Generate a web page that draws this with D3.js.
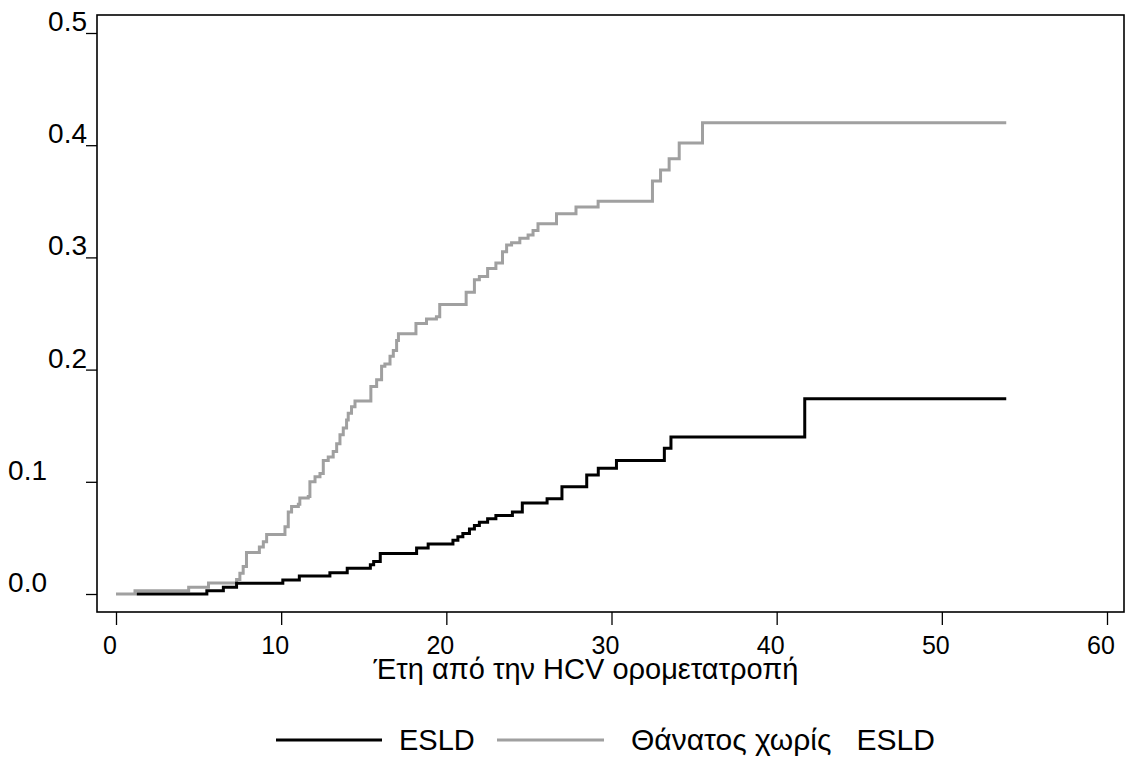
<!DOCTYPE html>
<html>
<head>
<meta charset="utf-8">
<script src="https://cdn.jsdelivr.net/npm/d3@7"></script>
<style>
  html, body { margin: 0; padding: 0; background: #fff; }
  svg { display: block; }
  text { font-family: "Liberation Sans", Arial, sans-serif; fill: #000; }
</style>
</head>
<body>
<svg id="chart" width="1125" height="760"></svg>
<script>
// ---- data ----
const esldTimes  = [1.25, 5.5, 6.5, 7.3, 10.1, 11.1, 12.95, 14.0, 15.4, 15.6, 16.0, 18.2, 18.9, 20.4, 20.7, 21.0, 21.4, 21.7, 22.0, 22.5, 23.0, 24.0, 24.6, 26.1, 27.0, 28.5, 29.2, 30.3, 33.2, 33.6, 41.7, 53.9];
const esldValues = [0, 0.003, 0.006, 0.0095, 0.0125, 0.016, 0.019, 0.023, 0.026, 0.029, 0.036, 0.041, 0.0446, 0.048, 0.051, 0.054, 0.058, 0.061, 0.064, 0.067, 0.070, 0.073, 0.081, 0.085, 0.0956, 0.106, 0.112, 0.119, 0.130, 0.140, 0.174, 0.174];

const deathTimes  = [0, 1.15, 4.4, 5.6, 7.3, 7.5, 7.7, 7.9, 8.68, 8.92, 9.12, 10.23, 10.43, 10.63, 11.04, 11.13, 11.64, 11.74, 12.05, 12.35, 12.55, 12.85, 13.15, 13.36, 13.56, 13.76, 13.96, 14.06, 14.26, 14.47, 15.43, 15.78, 16.08, 16.28, 16.59, 16.79, 16.99, 17.1, 18.16, 18.8, 19.4, 19.6, 21.2, 21.7, 22.0, 22.5, 23.0, 23.4, 23.65, 23.95, 24.45, 24.95, 25.25, 25.55, 26.67, 27.85, 29.19, 32.48, 32.97, 33.49, 34.1, 35.51, 53.9];
const deathValues = [0, 0.003, 0.006, 0.0098, 0.013, 0.0185, 0.0244, 0.037, 0.042, 0.0466, 0.053, 0.060, 0.073, 0.078, 0.080, 0.0855, 0.087, 0.100, 0.1045, 0.1075, 0.119, 0.122, 0.127, 0.134, 0.142, 0.148, 0.155, 0.161, 0.167, 0.172, 0.185, 0.191, 0.203, 0.205, 0.212, 0.217, 0.226, 0.232, 0.241, 0.245, 0.247, 0.258, 0.269, 0.280, 0.283, 0.290, 0.295, 0.305, 0.311, 0.313, 0.317, 0.320, 0.324, 0.330, 0.339, 0.345, 0.350, 0.368, 0.378, 0.388, 0.402, 0.420, 0.420];

const xTicks = [0, 10, 20, 30, 40, 50, 60];
const yTicks = [0, 0.1, 0.2, 0.3, 0.4, 0.5];
const yTickLabels = ["0.0", "0.1", "0.2", "0.3", "0.4", "0.5"];

const xTitle = "Έτη από την HCV ορομετατροπή";
const seriesNames = ["ESLD", "Θάνατος χωρίς   ESLD"];
const seriesColors = ["#000000", "#a0a0a0"];

// ---- layout ----
const frame = { left: 97, right: 1124, top: 15, bottom: 612 };
const svg = d3.select("#chart");

const x = d3.scaleLinear().domain([0, 60]).range([116, 1107]);
const y = d3.scaleLinear().domain([0, 0.5]).range([594, 33]);

// frame
svg.append("rect")
  .attr("x", frame.left).attr("y", frame.top)
  .attr("width", frame.right - frame.left).attr("height", frame.bottom - frame.top)
  .attr("fill", "none").attr("stroke", "#000").attr("stroke-width", 1.6);

// y axis ticks
const yAxis = d3.axisLeft(y).tickValues(yTicks).tickSize(11).tickFormat("");
const gy = svg.append("g").attr("transform", `translate(${frame.left},0)`).call(yAxis);
gy.select(".domain").remove();
gy.selectAll(".tick line").attr("stroke", "#000").attr("stroke-width", 1.3);

svg.append("g").selectAll("text")
  .data(yTicks)
  .join("text")
  .attr("x", (d, i) => i < 2 ? 47 : 87)
  .attr("y", d => y(d) - 2)
  .attr("text-anchor", "end")
  .attr("font-size", 28)
  .text((d, i) => yTickLabels[i]);

// x axis ticks
const xAxis = d3.axisBottom(x).tickValues(xTicks).tickSize(13).tickFormat("");
const gx = svg.append("g").attr("transform", `translate(0,${frame.bottom})`).call(xAxis);
gx.select(".domain").remove();
gx.selectAll(".tick line").attr("stroke", "#000").attr("stroke-width", 1.3);

svg.append("g").selectAll("text")
  .data(xTicks)
  .join("text")
  .attr("x", d => x(d) - 6)
  .attr("y", 654)
  .attr("text-anchor", "middle")
  .attr("font-size", 25)
  .text(d => d);

svg.append("text")
  .attr("x", 586).attr("y", 679)
  .attr("text-anchor", "middle")
  .attr("font-size", 29)
  .text(xTitle);

// lines
const line = d3.line()
  .x(d => x(d[0])).y(d => y(d[1]))
  .curve(d3.curveStepAfter);

const esld = esldTimes.map((t, i) => [t, esldValues[i]]);
const death = deathTimes.map((t, i) => [t, deathValues[i]]);

svg.append("path").datum(death)
  .attr("d", line).attr("fill", "none")
  .attr("stroke", seriesColors[1]).attr("stroke-width", 3);
svg.append("path").datum(esld)
  .attr("d", line).attr("fill", "none")
  .attr("stroke", seriesColors[0]).attr("stroke-width", 3);

// legend
const legendItems = [
  { x1: 276, x2: 382, tx: 399, fs: 29 },
  { x1: 497, x2: 604, tx: 631, fs: 30 }
];
const lg = svg.append("g");
legendItems.forEach((it, i) => {
  lg.append("line")
    .attr("x1", it.x1).attr("x2", it.x2).attr("y1", 740).attr("y2", 740)
    .attr("stroke", seriesColors[i]).attr("stroke-width", 3);
  lg.append("text")
    .attr("x", it.tx).attr("y", 750)
    .attr("font-size", it.fs)
    .attr("xml:space", "preserve")
    .style("white-space", "pre")
    .text(seriesNames[i]);
});
</script>
</body>
</html>
